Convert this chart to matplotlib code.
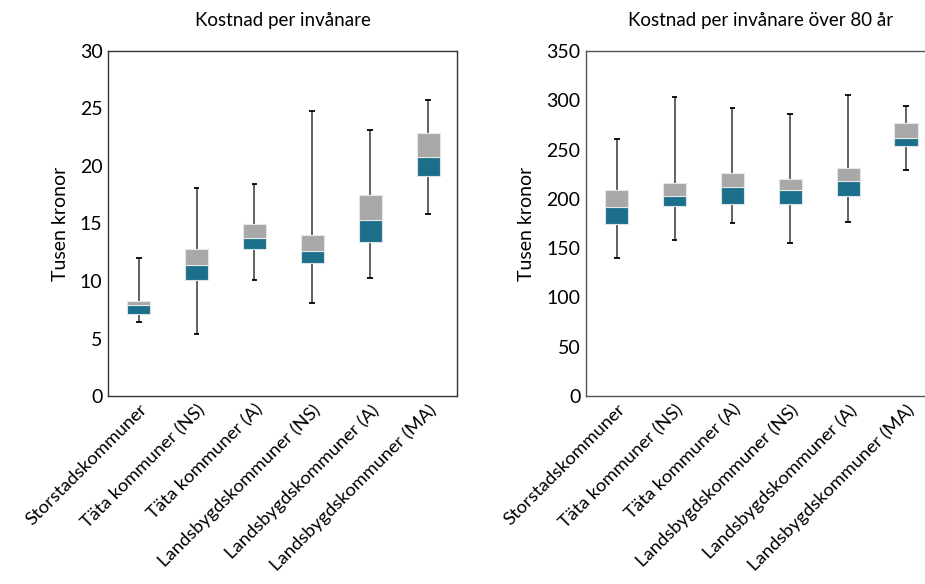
import matplotlib
matplotlib.use("Agg")
import matplotlib.pyplot as plt
import numpy as np

plt.rcParams['font.family'] = ['Lato', 'DejaVu Sans']

categories = ["Storstadskommuner", "Täta kommuner (NS)", "Täta kommuner (A)",
              "Landsbygdskommuner (NS)", "Landsbygdskommuner (A)", "Landsbygdskommuner (MA)"]

# Kostnad per invånare (tusen kronor)
p_min = [6.4, 5.4, 10.1, 8.1, 10.3, 15.8]
p_q1 = [7.15, 10.1, 12.8, 11.6, 13.4, 19.1]
p_med = [7.9, 11.4, 13.75, 12.6, 15.3, 20.8]
p_q3 = [8.3, 12.8, 14.95, 14.0, 17.45, 22.9]
p_max = [12.0, 18.1, 18.45, 24.75, 23.15, 25.7]

# Kostnad per invånare över 80 år (tusen kronor)
o_min = [140, 158, 176, 155, 177, 229]
o_q1 = [174, 193, 195, 195, 203, 254]
o_med = [192, 203, 212, 209, 218, 262]
o_q3 = [209, 216, 226, 220, 231, 277]
o_max = [261, 303, 292, 286, 305, 294]

titles = ["Kostnad per invånare", "Kostnad per invånare över 80 år"]
ylims = [(0, 30), (0, 350)]
yticks = [np.arange(0, 31, 5), np.arange(0, 351, 50)]

teal = "#1c6f8a"
grey = "#a8a8a8"

fig = plt.figure(figsize=(9.25, 5.84), dpi=100)
ax1 = fig.add_axes([0.1168, 0.3219, 0.3773, 0.5908])
ax2 = fig.add_axes([0.6335, 0.3219, 0.3773, 0.5908])

datasets = [(p_min, p_q1, p_med, p_q3, p_max), (o_min, o_q1, o_med, o_q3, o_max)]

for ax, (mn, q1, md, q3, mx), title, yl, yt in zip([ax1, ax2], datasets, titles, ylims, yticks):
    x = np.arange(len(categories))
    mn, q1, md, q3, mx = map(np.array, (mn, q1, md, q3, mx))
    ax.vlines(x, mn, mx, color="#555555", lw=1.3, zorder=1)
    cap = 0.05
    ax.hlines(mn, x - cap, x + cap, color="black", lw=1.3, zorder=1)
    ax.hlines(mx, x - cap, x + cap, color="black", lw=1.3, zorder=1)
    ax.bar(x, md - q1, bottom=q1, width=0.4, color=teal, edgecolor="#d8e4ea", lw=0.8, zorder=2)
    ax.bar(x, q3 - md, bottom=md, width=0.4, color=grey, edgecolor="#e6e6e6", lw=0.8, zorder=2)
    ax.set_xlim(-0.53, 5.5)
    ax.set_ylim(*yl)
    ax.set_yticks(yt)
    ax.set_xticks(x)
    ax.set_xticklabels(categories, rotation=45, ha="right", rotation_mode="anchor", fontsize=13.3)
    ax.tick_params(axis="both", length=0, labelsize=14, pad=4)
    ax.tick_params(axis="x", labelsize=13.3, pad=4)
    ax.set_ylabel("Tusen kronor", fontsize=14, labelpad=8)
    ax.set_title(title, fontsize=13.5, pad=18)
    for s in ax.spines.values():
        s.set_color("#333333")
        s.set_linewidth(1.0)

ax2.spines["right"].set_visible(False)
for s in ["top", "bottom", "left"]:
    ax2.spines[s].set_color("#555555")

fig.savefig("out.png", dpi=100)
